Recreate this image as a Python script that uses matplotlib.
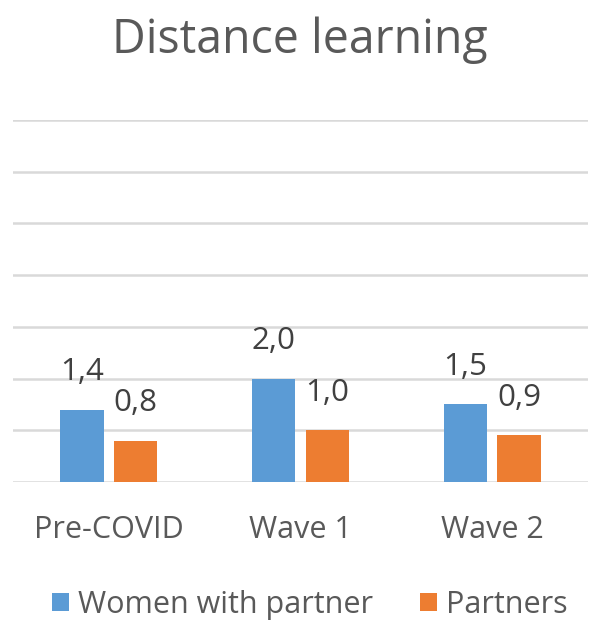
import numpy as np
import matplotlib.pyplot as plt

categories = ["Pre-COVID", "Wave 1", "Wave 2"]
women = [1.4, 2.0, 1.5]
partners = [0.8, 1.0, 0.9]
series_names = ["Women with partner", "Partners"]

blue = "#5b9bd5"
orange = "#ed7d31"
grey = "#595959"

plt.rcParams['font.family'] = ['Open Sans', 'DejaVu Sans']

fig = plt.figure(figsize=(5.9, 6.27), dpi=100)
ax = fig.add_axes([13 / 590, 145 / 627, 575 / 590, 362 / 627])

x = np.arange(len(categories))
w = 0.225
off = 0.14

b1 = ax.bar(x - off, women, w, color=blue, label=series_names[0], zorder=3)
b2 = ax.bar(x + off, partners, w, color=orange, label=series_names[1], zorder=3)

def put_labels(bars, vals):
    for bar, v in zip(bars, vals):
        ax.annotate(f"{v:.1f}".replace(".", ","),
                    (bar.get_x() + bar.get_width() / 2, bar.get_height()),
                    xytext=(0, 21), textcoords="offset points",
                    ha="center", va="baseline", fontsize=22.5, color="#404040")

put_labels(b1, women)
put_labels(b2, partners)

ax.set_xlim(-0.5, 2.5)
ax.set_ylim(0, 7)
ax.set_yticks(np.arange(0, 8, 1))
ax.yaxis.grid(True, color="#d9d9d9", linewidth=1.8, zorder=0)
ax.tick_params(axis="y", left=False, labelleft=False)
ax.tick_params(axis="x", bottom=False, labelsize=22, labelcolor=grey, pad=20)
ax.set_xticks(x)
ax.set_xticklabels(categories)
for s in ax.spines.values():
    s.set_visible(False)

fig.text(300 / 590, 1 - 40 / 627, "Distance learning", ha="center", va="center",
         fontsize=33.5, color=grey)

fig.legend(loc="center", bbox_to_anchor=(310 / 590, 1 - 605 / 627), ncol=2,
           frameon=False, fontsize=22, labelcolor=grey,
           handlelength=0.55, handleheight=0.55, handletextpad=0.3,
           columnspacing=1.55)

fig.savefig("out.png", dpi=100)
